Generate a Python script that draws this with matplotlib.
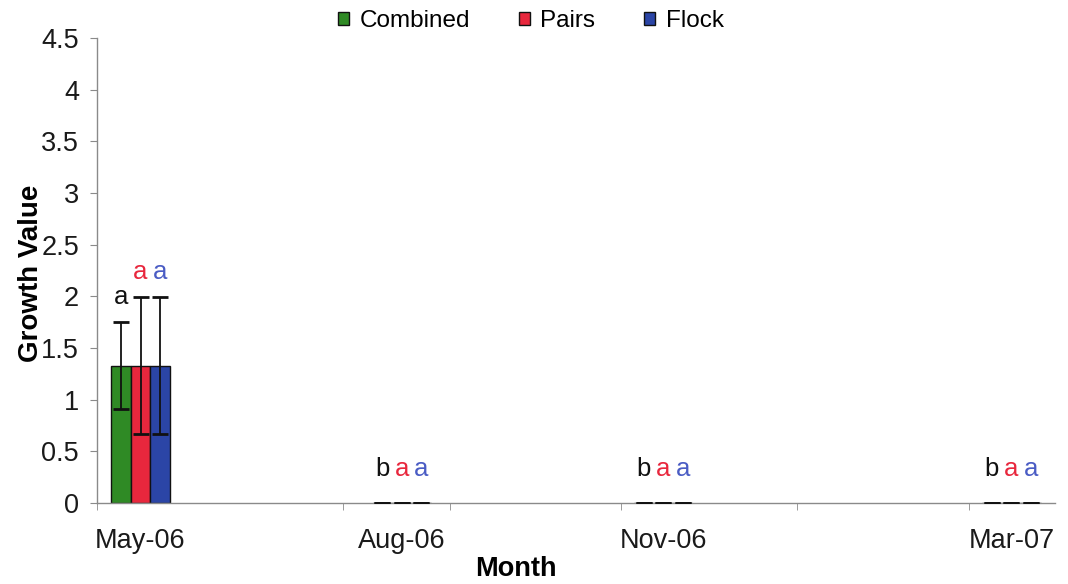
import matplotlib
matplotlib.use("Agg")
import matplotlib.pyplot as plt
import numpy as np

plt.rcParams['font.family'] = ['Liberation Sans', 'DejaVu Sans']

months = ["May-06", "Aug-06", "Nov-06", "Mar-07"]
month_offset = [0, 3, 6, 10]          # months since May-06 (date axis)
series = ["Combined", "Pairs", "Flock"]
values = {
    "Combined": [1.33, 0, 0, 0],
    "Pairs":    [1.33, 0, 0, 0],
    "Flock":    [1.33, 0, 0, 0],
}
errors = {
    "Combined": [0.42, 0, 0, 0],
    "Pairs":    [0.66, 0, 0, 0],
    "Flock":    [0.66, 0, 0, 0],
}
letters = {
    "Combined": ["a", "b", "b", "b"],
    "Pairs":    ["a", "a", "a", "a"],
    "Flock":    ["a", "a", "a", "a"],
}
letter_y = {
    "Combined": [1.99, 0.33, 0.33, 0.33],
    "Pairs":    [2.24, 0.33, 0.33, 0.33],
    "Flock":    [2.24, 0.33, 0.33, 0.33],
}

bar_colors = {"Combined": "#2f8a25", "Pairs": "#e8273d", "Flock": "#2b45a6"}
letter_colors = {"Combined": "#111111", "Pairs": "#e8273d", "Flock": "#4a5cc4"}

fig = plt.figure(figsize=(10.68, 5.84), dpi=100)
ax = fig.add_axes([97/1068, 1 - 503/584, (1055-97)/1068, (503-38)/584])

centers = np.array(month_offset) + 0.5
w = 0.224
for i, s in enumerate(series):
    x = centers + (i - 1) * w
    ax.bar(x, values[s], width=w, color=bar_colors[s], edgecolor="#111111",
           linewidth=1.0, label=s, zorder=2)
    ax.errorbar(x, values[s], yerr=errors[s], fmt="none", ecolor="#111111",
                elinewidth=1.3, capsize=5.5, capthick=2.0, zorder=3)
    for xi, ly, t in zip(x, letter_y[s], letters[s]):
        ax.text(xi, ly, t, ha="center", va="center", fontsize=18.5,
                color=letter_colors[s])

ax.set_xlim(0, 11)
ax.set_ylim(0, 4.5)
ax.set_yticks(np.arange(0, 4.51, 0.5))
ax.set_yticklabels(["0", "0.5", "1", "1.5", "2", "2.5", "3", "3.5", "4", "4.5"])
ax.set_xticks(centers)
ax.set_xticklabels(months)
ax.set_xticks([0, 2.82, 4.05, 6.02, 8.04, 10.01], minor=True)

for sp in ["top", "right"]:
    ax.spines[sp].set_visible(False)
for sp in ["left", "bottom"]:
    ax.spines[sp].set_color("#8a8a8a")
    ax.spines[sp].set_linewidth(1.0)

ax.tick_params(axis="y", direction="out", length=5, color="#8a8a8a",
               labelsize=19.5, labelcolor="#1a1a1a", pad=8)
ax.tick_params(axis="x", which="major", length=0, labelsize=19.5,
               labelcolor="#1a1a1a", pad=18)
ax.tick_params(axis="x", which="minor", direction="out", length=5,
               color="#8a8a8a")

ax.set_ylabel("Growth Value", fontsize=20, fontweight="bold")
ax.yaxis.set_label_coords(-0.055, 0.495)
ax.set_xlabel("Month", fontsize=19.5, fontweight="bold")
ax.xaxis.set_label_coords(0.437, -0.114)

handles, labels = ax.get_legend_handles_labels()
fig.legend(handles, labels, loc="center", bbox_to_anchor=(0.497, 0.964),
           ncol=3, frameon=False, fontsize=17.5, handlelength=0.45,
           handleheight=0.45, handletextpad=0.45, columnspacing=2.0)

fig.savefig("out.png", dpi=100)
